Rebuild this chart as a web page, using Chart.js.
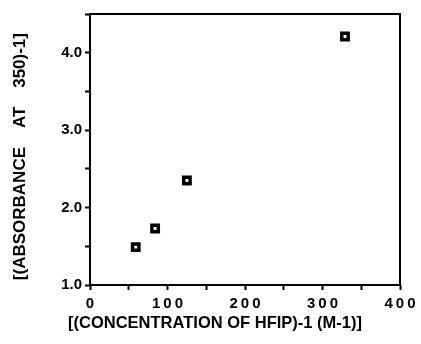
<!DOCTYPE html>
<html>
<head>
<meta charset="utf-8">
<script src="https://cdn.jsdelivr.net/npm/chart.js@4.4.0/dist/chart.umd.min.js"></script>
<style>
  html, body { margin: 0; padding: 0; background: #fff; }
  #wrap { width: 421px; height: 344px; }
</style>
</head>
<body>
<div id="wrap"><canvas id="plot" width="421" height="344"></canvas></div>
<script>
// data
const concInv = [59, 84, 125, 329];
const absInv = [1.49, 1.73, 2.35, 4.21];
const xTitle = '[(CONCENTRATION OF HFIP)-1 (M-1)]';
// trailing spaces nudge the title down a little like the original
const yTitle = '[(ABSORBANCE    AT    350)-1]   ';

const fontFam = '"Liberation Sans", Arial, sans-serif';

// frame round the plot area, plus the x title which sits left of centre in the original
const frame = {
    id: 'frame',
    afterDraw(chart) {
        const a = chart.chartArea;
        const ctx = chart.ctx;
        ctx.save();
        ctx.strokeStyle = '#000';
        ctx.lineWidth = 2;
        ctx.strokeRect(a.left, a.top, a.right - a.left, a.bottom - a.top);
        ctx.fillStyle = '#000';
        ctx.font = 'bold 16.5px ' + fontFam;
        ctx.textAlign = 'center';
        ctx.textBaseline = 'middle';
        ctx.fillText(xTitle, (a.left + a.right) / 2 - 30, chart.height - 21);
        ctx.restore();
    }
};

new Chart(document.getElementById('plot'), {
    type: 'scatter',
    data: {
        datasets: [{
            data: concInv.map((x, i) => ({ x: x, y: absInv[i] })),
            pointStyle: 'rect',
            pointRadius: 4.5,
            backgroundColor: '#fff',
            borderColor: '#000',
            borderWidth: 3.5
        }]
    },
    options: {
        responsive: false,
        animation: false,
        layout: { padding: { top: 14, right: 21, left: 0, bottom: 0 } },
        plugins: { legend: { display: false }, tooltip: { enabled: false } },
        scales: {
            x: {
                min: 0, max: 400,
                border: { display: false },
                grid: { drawOnChartArea: false, tickLength: 5, tickColor: '#000', tickWidth: 2 },
                ticks: {
                    stepSize: 50,
                    color: '#000',
                    padding: 5,
                    font: { family: fontFam, size: 15, weight: 'bold' },
                    // spaced digits like the original typesetting
                    callback: v => (v % 100 === 0 ? String(v).split('').join('\u2009') : '')
                },
                title: { display: false },
                afterFit: s => { s.height = 59; }
            },
            y: {
                min: 1, max: 4.5,
                border: { display: false },
                grid: { drawOnChartArea: false, tickLength: 5, tickColor: '#000', tickWidth: 2 },
                ticks: {
                    stepSize: 0.5,
                    color: '#000',
                    padding: 3,
                    font: { family: fontFam, size: 15, weight: 'bold' },
                    callback: v => (Number.isInteger(v) && v < 4.5 ? v.toFixed(1) : '')
                },
                title: {
                    display: true, text: yTitle, color: '#000',
                    font: { family: fontFam, size: 17, weight: 'bold' },
                    padding: { top: 10, bottom: 0 }
                },
                afterFit: s => { s.width = 90; }
            }
        }
    },
    plugins: [frame]
});
</script>
</body>
</html>
